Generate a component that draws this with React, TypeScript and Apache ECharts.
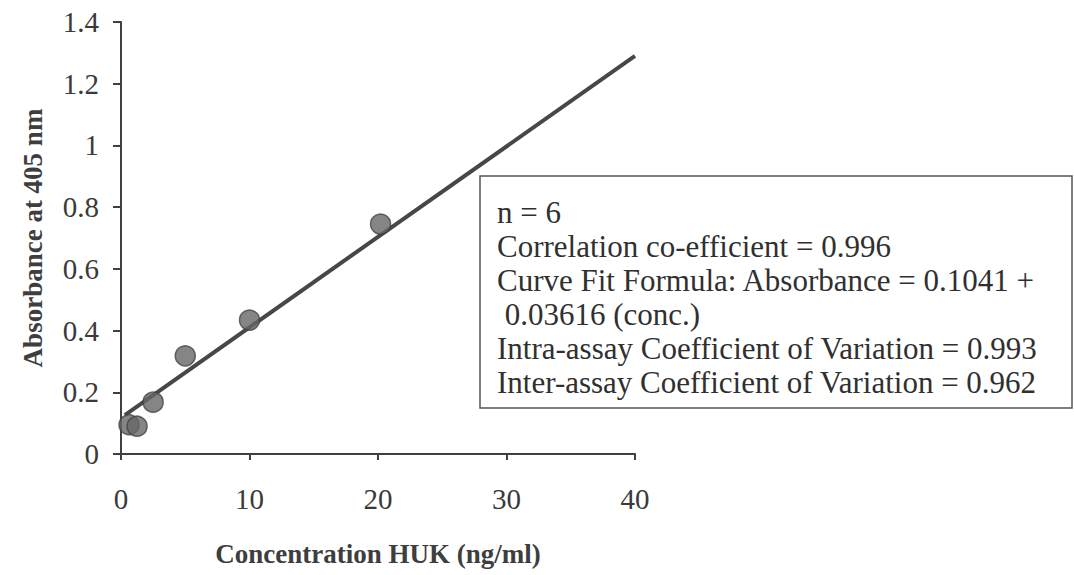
import React, { useEffect, useRef } from "react";
import * as echarts from "echarts";

// Standard curve: HUK concentration (ng/ml) vs absorbance at 405 nm
const concentration = [0.625, 1.25, 2.5, 5, 10, 20.2, 40.3];
const absorbance = [0.095, 0.09, 0.168, 0.318, 0.434, 0.745, 1.285];

// Fitted line drawn across the measured range
const fitConcentration = [0.3, 40];
const fitAbsorbance = [0.126, 1.29];

const statLines = [
  "n = 6",
  "Correlation co-efficient = 0.996",
  "Curve Fit Formula: Absorbance = 0.1041 +",
  " 0.03616 (conc.)",
  "Intra-assay Coefficient of Variation = 0.993",
  "Inter-assay Coefficient of Variation = 0.962",
];

const xTitle = "Concentration HUK (ng/ml)";
const yTitle = "Absorbance at 405 nm";

const SERIF = '"Liberation Serif", "Times New Roman", serif';

export default function App() {
  const ref = useRef<HTMLDivElement>(null);

  useEffect(() => {
    if (!ref.current) return;
    const chart = echarts.init(ref.current, undefined, { renderer: "svg" });

    const boxX = 480;
    const boxY = 176;
    const textX = 497;
    const firstLineY = 212;
    const lineStep = 34;

    chart.setOption({
      animation: false,
      backgroundColor: "#ffffff",
      grid: { left: 121, top: 22, width: 514, height: 432, containLabel: false },
      xAxis: {
        type: "value",
        min: 0,
        max: 40,
        interval: 10,
        name: xTitle,
        nameLocation: "middle",
        nameGap: 86,
        nameTextStyle: { fontFamily: SERIF, fontSize: 27, fontWeight: "bold", color: "#3e3e3e" },
        axisLine: { show: true, lineStyle: { color: "#404040", width: 2 } },
        axisTick: { show: true, inside: false, length: 6, lineStyle: { color: "#404040", width: 2 } },
        axisLabel: { fontFamily: SERIF, fontSize: 29, color: "#3a3a3a", margin: 30 },
        splitLine: { show: false },
      },
      yAxis: {
        type: "value",
        min: 0,
        max: 1.4,
        interval: 0.2,
        name: yTitle,
        nameLocation: "middle",
        nameGap: 75,
        nameRotate: 90,
        nameTextStyle: { fontFamily: SERIF, fontSize: 27, fontWeight: "bold", color: "#3e3e3e" },
        axisLine: { show: true, lineStyle: { color: "#404040", width: 2 } },
        axisTick: { show: true, inside: false, length: 8, lineStyle: { color: "#404040", width: 2 } },
        axisLabel: { fontFamily: SERIF, fontSize: 29, color: "#3a3a3a", margin: 22 },
        splitLine: { show: false },
      },
      series: [
        {
          name: "Fit",
          type: "line",
          data: fitConcentration.map((c, i) => [c, fitAbsorbance[i]]),
          showSymbol: false,
          symbol: "none",
          lineStyle: { color: "#474747", width: 4 },
          z: 2,
        },
        {
          name: "Standards",
          type: "scatter",
          data: concentration.map((c, i) => [c, absorbance[i]]),
          symbol: "circle",
          symbolSize: 20,
          itemStyle: { color: "#666666", borderColor: "#444444", borderWidth: 1.5 },
          z: 3,
        },
      ],
      graphic: [
        {
          type: "rect",
          shape: { x: boxX, y: boxY, width: 592, height: 232 },
          style: { fill: "#ffffff", stroke: "#555555", lineWidth: 1.5 },
          z: 10,
        },
        ...statLines.map((t, i) => ({
          type: "text",
          x: textX,
          y: firstLineY + i * lineStep,
          style: {
            text: t,
            fontFamily: SERIF,
            fontSize: 31,
            fill: "#303030",
            verticalAlign: "middle",
            align: "left",
          },
          z: 11,
        })),
      ],
    });

    return () => chart.dispose();
  }, []);

  return (
    <div
      ref={ref}
      style={{ position: "fixed", left: 0, top: 0, width: 1074, height: 575, background: "#fff" }}
    />
  );
}
